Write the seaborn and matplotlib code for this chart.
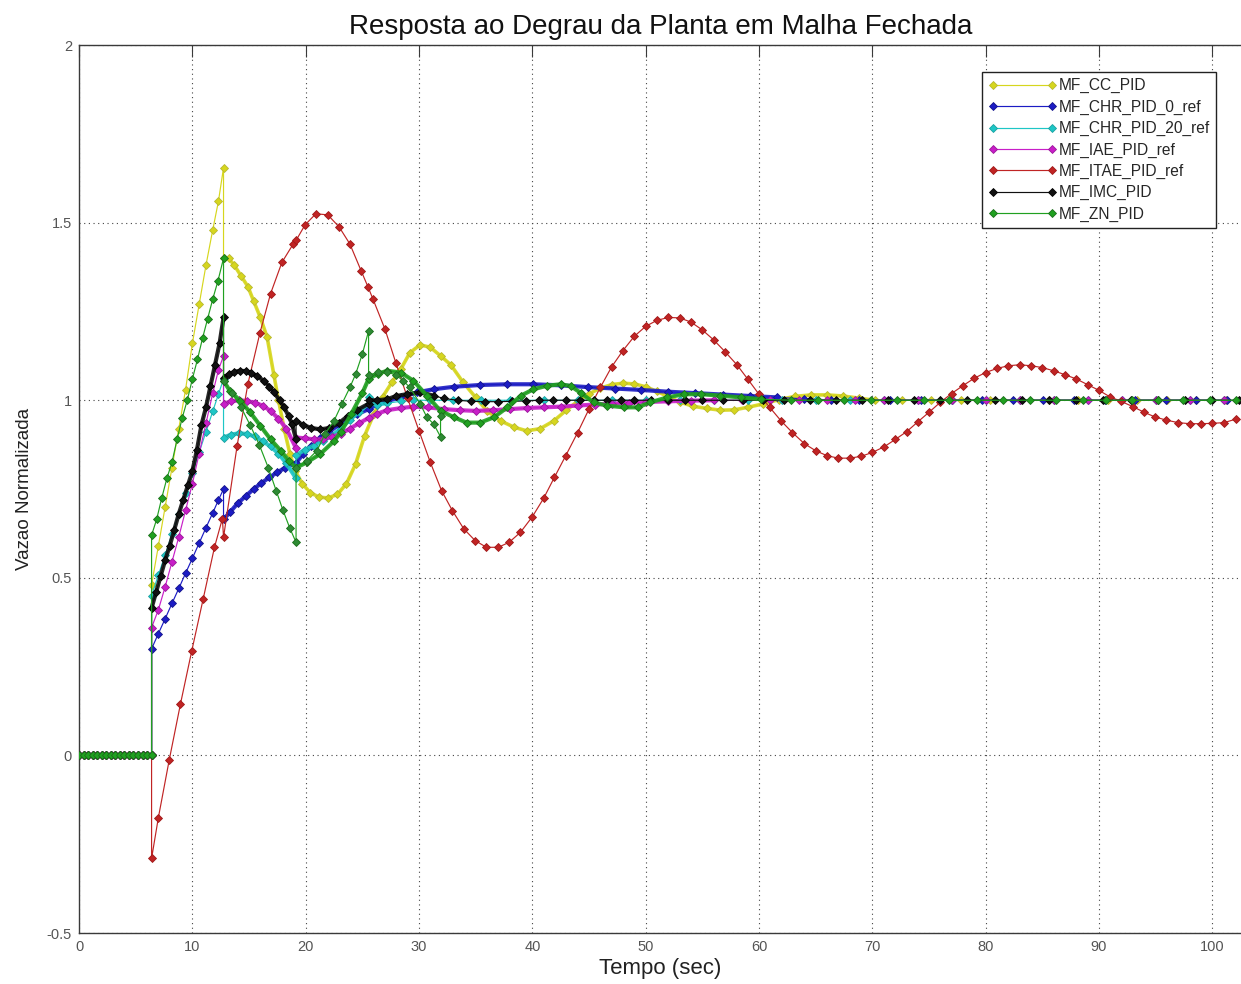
import numpy as np
import matplotlib
matplotlib.use("Agg")
import matplotlib.pyplot as plt
import seaborn as sns
from matplotlib.lines import Line2D

sns.set_style("white")
plt.rcParams["font.family"] = ["Liberation Sans", "DejaVu Sans"]

# ---------------------------------------------------------------- data
# closed-loop output is zero until the step is applied at t = 6.4 s
t_pre = np.linspace(0.0, 6.4, 17)
y_pre = np.zeros_like(t_pre)

# (time [s], normalised flow) samples; repeated times are jumps
cc_pid = [
    (6.4, 0.48), (7.0, 0.59), (7.6, 0.70), (8.2, 0.81), (8.8, 0.92), (9.4, 1.03),
    (10.0, 1.16), (10.6, 1.27), (11.2, 1.38), (11.8, 1.48), (12.3, 1.56), (12.75, 1.655),
    (12.75, 1.40), (13.2, 1.40), (13.7, 1.38), (14.3, 1.35), (14.9, 1.32), (15.4, 1.28),
    (16.0, 1.233), (16.6, 1.177), (17.2, 1.07), (17.6, 1.0), (18.1, 0.92), (18.6, 0.85),
    (19.1, 0.80), (19.7, 0.765), (20.4, 0.74), (21.2, 0.727), (22.0, 0.725), (22.8, 0.735),
    (23.6, 0.765), (24.4, 0.82), (25.2, 0.90), (26.0, 0.96), (26.8, 1.01), (27.6, 1.05),
    (28.4, 1.088), (29.2, 1.134), (30.1, 1.156), (31.0, 1.149), (31.9, 1.125), (32.8, 1.10),
    (33.9, 1.05), (35.0, 1.008), (36.0, 0.97), (37.2, 0.942), (38.4, 0.924), (39.5, 0.914),
    (40.7, 0.92), (41.9, 0.942), (43.0, 0.972), (44.0, 0.997), (45.0, 1.018), (46.0, 1.034),
    (47.0, 1.044), (48.0, 1.048), (49.0, 1.046), (50.0, 1.038), (51.0, 1.025), (52.0, 1.01),
    (53.0, 0.995), (54.2, 0.983), (55.4, 0.977), (56.6, 0.972), (57.8, 0.973), (59.0, 0.98),
    (60.4, 0.99), (61.8, 1.002), (63.2, 1.011), (64.6, 1.015), (66.0, 1.015), (67.4, 1.012),
    (68.8, 1.006), (70.2, 1.0), (72.6, 1.0), (75.2, 1.0), (77.8, 1.0), (80.4, 1.0),
    (83.0, 1.0), (85.6, 1.0), (88.2, 1.0), (90.8, 1.0), (93.4, 1.0), (96.0, 1.0),
    (98.6, 1.0), (101.2, 1.0),
]

chr_pid_0 = [
    (6.4, 0.30), (7.0, 0.343), (7.6, 0.385), (8.2, 0.428), (8.8, 0.47), (9.4, 0.513),
    (10.0, 0.555), (10.6, 0.598), (11.2, 0.641), (11.8, 0.683), (12.3, 0.719), (12.75, 0.75),
    (12.75, 0.665), (13.3, 0.684), (14.0, 0.71), (14.7, 0.73), (15.4, 0.75), (16.1, 0.767),
    (16.8, 0.783), (17.5, 0.797), (18.2, 0.81), (19.15, 0.823),
    (19.8, 0.85), (20.5, 0.87), (21.3, 0.893), (22.1, 0.912), (22.9, 0.93), (23.7, 0.946),
    (24.5, 0.96), (25.55, 0.975),
    (26.3, 0.988), (27.2, 0.998), (28.4, 1.008), (29.8, 1.022), (31.3, 1.031), (33.1, 1.038),
    (35.4, 1.043), (37.8, 1.045), (40.1, 1.045), (42.5, 1.042), (44.9, 1.037), (47.3, 1.033),
    (49.6, 1.029), (52.0, 1.024), (54.4, 1.02), (56.8, 1.016), (59.2, 1.012), (61.6, 1.008),
    (64.0, 1.004), (66.4, 1.001), (68.8, 1.0), (71.6, 1.0), (74.3, 1.0), (77.0, 1.0),
    (79.7, 1.0), (82.4, 1.0), (85.1, 1.0), (87.8, 1.0), (90.5, 1.0), (93.2, 1.0),
    (95.9, 1.0), (98.6, 1.0), (101.3, 1.0),
]

chr_pid_20 = [
    (6.4, 0.45), (7.0, 0.508), (7.6, 0.565), (8.2, 0.623), (8.8, 0.681), (9.4, 0.738),
    (10.0, 0.796), (10.6, 0.853), (11.2, 0.911), (11.8, 0.969), (12.3, 1.017), (12.75, 1.06),
    (12.75, 0.895), (13.4, 0.903), (14.1, 0.907), (14.8, 0.905), (15.5, 0.898), (16.2, 0.885),
    (16.9, 0.87), (17.6, 0.85), (18.3, 0.822), (19.15, 0.78),
    (19.15, 0.845), (19.9, 0.86), (20.7, 0.872), (21.5, 0.885), (22.3, 0.90), (23.1, 0.92),
    (23.9, 0.945), (24.7, 0.968), (25.55, 0.99), (25.55, 1.01),
    (26.3, 0.988), (27.2, 0.992), (28.4, 0.997), (29.5, 1.0), (31.0, 1.0), (33.0, 1.0),
    (35.5, 1.0), (38.0, 1.0), (41.0, 1.0), (44.0, 1.0), (47.0, 1.0), (50.0, 1.0),
    (53.0, 1.0), (56.0, 1.0), (59.0, 1.0), (62.0, 1.0), (65.0, 1.0), (68.0, 1.0),
    (71.0, 1.0), (74.0, 1.0), (77.0, 1.0), (80.0, 1.0), (83.0, 1.0), (86.0, 1.0),
    (89.0, 1.0), (92.0, 1.0), (95.0, 1.0), (98.0, 1.0), (101.0, 1.0),
]

iae_pid = [
    (6.4, 0.36), (7.0, 0.41), (7.6, 0.475), (8.2, 0.545), (8.8, 0.615), (9.4, 0.69),
    (10.0, 0.765), (10.6, 0.85), (11.2, 0.935), (11.8, 1.02), (12.3, 1.085), (12.75, 1.125),
    (12.75, 0.99), (13.4, 0.997), (14.1, 1.0), (14.8, 0.998), (15.5, 0.993), (16.2, 0.985),
    (16.9, 0.97), (17.6, 0.948), (18.3, 0.92), (19.15, 0.865),
    (19.15, 0.895), (19.9, 0.893), (20.7, 0.89), (21.5, 0.89), (22.3, 0.897), (23.1, 0.905),
    (23.9, 0.92), (24.7, 0.935), (25.55, 0.95),
    (26.3, 0.962), (27.2, 0.972), (28.4, 0.978), (29.5, 0.982), (30.8, 0.98), (32.2, 0.975),
    (33.6, 0.972), (35.0, 0.97), (36.5, 0.972), (38.0, 0.975), (39.5, 0.978), (41.0, 0.98),
    (42.5, 0.982), (44.0, 0.985), (45.5, 0.988), (47.0, 0.99), (48.5, 0.993), (50.0, 0.995),
    (52.0, 0.997), (54.0, 0.999), (56.0, 1.0), (58.5, 1.0), (61.0, 1.0), (63.5, 1.0),
    (66.0, 1.0), (68.5, 1.0), (71.0, 1.0), (74.0, 1.0), (77.0, 1.0), (80.0, 1.0),
    (83.0, 1.0), (86.0, 1.0), (89.0, 1.0), (92.0, 1.0), (95.0, 1.0), (98.0, 1.0), (101.0, 1.0),
]

itae_pid = [
    (6.4, -0.29), (7.0, -0.175), (7.95, -0.014), (8.95, 0.145), (9.95, 0.295), (10.95, 0.44),
    (11.95, 0.586), (12.65, 0.667), (12.75, 0.614), (13.95, 0.872), (14.9, 1.046), (15.95, 1.188),
    (16.9, 1.30), (17.9, 1.388), (18.9, 1.44), (19.15, 1.45), (19.95, 1.494), (20.9, 1.525),
    (21.95, 1.522), (22.95, 1.488), (23.9, 1.44), (24.9, 1.364), (25.5, 1.319), (25.95, 1.284),
    (27.0, 1.2), (27.95, 1.106), (29.0, 1.005), (30.0, 0.914), (31.0, 0.825), (32.0, 0.745),
    (32.95, 0.689), (33.95, 0.638), (34.95, 0.605), (35.95, 0.586), (37.0, 0.586), (37.95, 0.60),
    (38.95, 0.628), (40.0, 0.672), (41.0, 0.724), (41.95, 0.783), (42.95, 0.844), (44.0, 0.909),
    (45.0, 0.975), (46.0, 1.036), (47.0, 1.094), (48.0, 1.14), (49.0, 1.18), (50.0, 1.208),
    (51.0, 1.225), (52.0, 1.233), (53.0, 1.232), (54.0, 1.22), (55.0, 1.198), (56.0, 1.17),
    (57.0, 1.137), (58.05, 1.10), (59.0, 1.06), (60.0, 1.017), (60.95, 0.98), (61.95, 0.942),
    (62.95, 0.909), (64.0, 0.878), (65.0, 0.858), (66.0, 0.844), (67.0, 0.837), (68.0, 0.837),
    (69.0, 0.842), (70.0, 0.853), (71.05, 0.869), (72.05, 0.89), (73.05, 0.912), (74.05, 0.94),
    (75.0, 0.966), (76.0, 0.994), (77.0, 1.019), (78.0, 1.041), (79.0, 1.062), (80.0, 1.078),
    (81.05, 1.09), (82.0, 1.097), (83.0, 1.10), (84.05, 1.097), (85.0, 1.092), (86.0, 1.083),
    (87.0, 1.072), (88.0, 1.06), (89.0, 1.044), (90.0, 1.028), (90.95, 1.01), (91.95, 0.997),
    (93.0, 0.982), (94.0, 0.966), (94.95, 0.953), (95.95, 0.944), (97.0, 0.937), (98.0, 0.934),
    (99.05, 0.934), (100.0, 0.935), (101.05, 0.937), (102.1, 0.947),
]

imc_pid = [
    (6.4, 0.415), (6.8, 0.46), (7.2, 0.505), (7.6, 0.55), (8.0, 0.59), (8.4, 0.635),
    (8.8, 0.68), (9.2, 0.72), (9.6, 0.76), (10.0, 0.80), (10.4, 0.86), (10.8, 0.93),
    (11.2, 0.98), (11.6, 1.04), (12.0, 1.10), (12.4, 1.16), (12.75, 1.233),
    (12.75, 1.064), (13.2, 1.073), (13.7, 1.08), (14.2, 1.083), (14.7, 1.082), (15.2, 1.077),
    (15.7, 1.068), (16.3, 1.055), (16.8, 1.038), (17.2, 1.022), (17.7, 1.0), (18.1, 0.98),
    (18.5, 0.955), (18.8, 0.933), (19.15, 0.89),
    (19.15, 0.942), (19.8, 0.93), (20.5, 0.922), (21.3, 0.918), (22.1, 0.922), (22.9, 0.935),
    (23.7, 0.955), (24.5, 0.972), (25.55, 0.99), (25.55, 1.0),
    (26.3, 1.0), (27.2, 1.003), (28.0, 1.012), (28.9, 1.017), (30.1, 1.022), (31.3, 1.013),
    (32.2, 1.005), (33.4, 1.0), (34.6, 0.997), (35.8, 0.996), (37.0, 0.996), (38.2, 0.997),
    (39.4, 0.998), (40.6, 1.0), (41.8, 1.0), (43.0, 1.0), (44.2, 1.0), (45.4, 1.0),
    (46.6, 1.0), (47.8, 1.0), (49.0, 1.0), (50.5, 1.0), (52.0, 1.0), (53.5, 1.0),
    (55.0, 1.0), (56.8, 1.0), (58.6, 1.0), (60.4, 1.0), (62.2, 1.0), (64.5, 1.0),
    (66.8, 1.0), (69.1, 1.0), (71.4, 1.0), (73.7, 1.0), (76.0, 1.0), (78.4, 1.0),
    (80.8, 1.0), (83.2, 1.0), (85.6, 1.0), (88.0, 1.0), (90.4, 1.0), (92.8, 1.0),
    (95.2, 1.0), (97.6, 1.0), (100.0, 1.0), (102.4, 1.0),
]

zn_pid = [
    (6.4, 0.62), (6.85, 0.665), (7.3, 0.725), (7.75, 0.78), (8.2, 0.825), (8.65, 0.89),
    (9.1, 0.95), (9.55, 1.0), (10.0, 1.06), (10.45, 1.115), (10.9, 1.175), (11.35, 1.23),
    (11.8, 1.285), (12.25, 1.335), (12.75, 1.40),
    (12.75, 1.055), (13.3, 1.027), (14.2, 0.999), (15.1, 0.966), (16.0, 0.928), (16.9, 0.89),
    (17.8, 0.858), (18.5, 0.83), (19.15, 0.81), (20.1, 0.825), (21.3, 0.849), (22.5, 0.885),
    (23.1, 0.91), (24.0, 0.96), (25.0, 1.02), (25.55, 1.06), (26.4, 1.075), (27.2, 1.083),
    (28.4, 1.078), (29.5, 1.055), (30.7, 1.013), (31.9, 0.97), (33.1, 0.952), (34.2, 0.937),
    (35.4, 0.937), (36.6, 0.952), (37.8, 0.98), (39.0, 1.013), (40.1, 1.031), (41.3, 1.041),
    (42.5, 1.045), (43.4, 1.04), (44.3, 1.02), (45.4, 0.994), (46.6, 0.985), (48.1, 0.98),
    (49.3, 0.98), (50.4, 0.994), (51.9, 1.008), (53.4, 1.017), (54.9, 1.017), (56.6, 1.013),
    (58.4, 1.008), (60.2, 1.003), (62.8, 1.0), (65.2, 1.0), (67.5, 1.0), (69.9, 1.0),
    (72.2, 1.0), (74.6, 1.0), (76.8, 1.0), (79.2, 1.0), (81.5, 1.0), (83.9, 1.0),
    (86.2, 1.0), (88.6, 1.0), (90.6, 1.0), (92.9, 1.0), (95.2, 1.0), (97.4, 1.0),
    (99.8, 1.0), (102.1, 1.0),
]

# restarted Z-N simulation windows (coarse sampling)
zn_pid_windows = [
    (12.75, 1.055), (13.5, 1.02), (14.3, 0.98), (15.1, 0.93), (15.9, 0.875), (16.7, 0.81),
    (17.4, 0.745), (18.0, 0.69), (18.6, 0.64), (19.15, 0.60),
    (19.15, 0.81), (20.1, 0.83), (21.0, 0.858), (21.7, 0.905), (22.5, 0.942), (23.2, 0.99),
    (23.9, 1.036), (24.4, 1.073), (25.0, 1.13), (25.55, 1.195),
    (25.55, 1.07), (26.4, 1.08), (27.2, 1.08), (28.0, 1.07), (28.6, 1.055), (29.2, 1.036),
    (30.1, 0.99), (30.7, 0.952), (31.3, 0.933), (31.9, 0.897), (31.9, 0.956),
]

series_names = ["MF_CC_PID", "MF_CHR_PID_0_ref", "MF_CHR_PID_20_ref", "MF_IAE_PID_ref",
                "MF_ITAE_PID_ref", "MF_IMC_PID", "MF_ZN_PID"]
series_data = [cc_pid, chr_pid_0, chr_pid_20, iae_pid, itae_pid, imc_pid, zn_pid]

x_ticks = [0, 10, 20, 30, 40, 50, 60, 70, 80, 90, 100]
x_tick_labels = ["0", "10", "20", "30", "40", "50", "60", "70", "80", "90", "100"]
y_ticks = [-0.5, 0.0, 0.5, 1.0, 1.5, 2.0]
y_tick_labels = ["-0.5", "0", "0.5", "1", "1.5", "2"]

# ---------------------------------------------------------------- style
colors = {
    "MF_CC_PID": "#d6d61e",
    "MF_CHR_PID_0_ref": "#1c1cc4",
    "MF_CHR_PID_20_ref": "#1ec6c6",
    "MF_IAE_PID_ref": "#c81ec8",
    "MF_ITAE_PID_ref": "#c02424",
    "MF_IMC_PID": "#111111",
    "MF_ZN_PID": "#20a020",
}
edge_colors = {
    "MF_CC_PID": "#b8b830",
    "MF_CHR_PID_0_ref": "#14148a",
    "MF_CHR_PID_20_ref": "#1aa0a0",
    "MF_IAE_PID_ref": "#9a189a",
    "MF_ITAE_PID_ref": "#a01818",
    "MF_IMC_PID": "#000000",
    "MF_ZN_PID": "#1a6e1a",
}
# time ranges where the samples are so dense that they form a thick band
band_ranges = {
    "MF_CC_PID": [(12.75, 70.5)],
    "MF_CHR_PID_0_ref": [(12.75, 62.0)],
    "MF_CHR_PID_20_ref": [(12.75, 27.5)],
    "MF_IAE_PID_ref": [(12.75, 56.0)],
    "MF_ITAE_PID_ref": [],
    "MF_IMC_PID": [(6.4, 31.5)],
    "MF_ZN_PID": [(0.0, 6.4), (12.75, 61.0)],
}
band_width = {"MF_CC_PID": 2.6}

MARKER = "D"
MS = 3.6
LW = 0.85


def as_arrays(points, with_pre=True):
    t, y = np.array(points, dtype=float).T
    if with_pre:
        t = np.concatenate([t_pre, t])
        y = np.concatenate([y_pre, y])
    return t, y


def draw_band(ax, t, y, lo, hi, color, width, z):
    # repeated sample times mark vertical jumps: keep them thin
    cuts = np.where(np.diff(t) == 0)[0] + 1
    for st, sy in zip(np.split(t, cuts), np.split(y, cuts)):
        keep = (st >= lo - 1e-9) & (st <= hi + 1e-9)
        if keep.sum() > 1:
            ax.plot(st[keep], sy[keep], color=color, lw=width, alpha=0.9,
                    solid_capstyle="butt", solid_joinstyle="round", zorder=z)


fig = plt.figure(figsize=(12.41, 9.84), dpi=100)
ax = fig.add_axes([0.0637, 0.0518, 0.9373, 0.9024])

for i, (name, pts) in enumerate(zip(series_names, series_data)):
    t, y = as_arrays(pts)
    z = 3 + i
    for lo, hi in band_ranges[name]:
        draw_band(ax, t, y, lo, hi, colors[name], band_width.get(name, 3.0), z)
    sns.lineplot(x=t, y=y, ax=ax, sort=False, estimator=None, errorbar=None,
                 color=colors[name], lw=LW, marker=MARKER, markersize=MS,
                 markeredgewidth=0.6, markeredgecolor=edge_colors[name],
                 markerfacecolor=colors[name], zorder=z)
    if name == "MF_ZN_PID":
        tw, yw = as_arrays(zn_pid_windows, with_pre=False)
        sns.lineplot(x=tw, y=yw, ax=ax, sort=False, estimator=None, errorbar=None,
                     color=colors[name], lw=LW, marker=MARKER, markersize=MS + 0.4,
                     markeredgewidth=0.6, markeredgecolor=edge_colors[name],
                     markerfacecolor="#2e8a34", zorder=z)

ax.set_xlim(0, 102.65)
ax.set_ylim(-0.5, 2.0)
ax.set_xticks(x_ticks)
ax.set_xticklabels(x_tick_labels)
ax.set_yticks(y_ticks)
ax.set_yticklabels(y_tick_labels)

ax.grid(True, color="#444444", linestyle=(0, (1, 3.2)), linewidth=0.8)
ax.set_axisbelow(True)
for side in ["left", "bottom", "top"]:
    ax.spines[side].set_color("#3a3a3a")
    ax.spines[side].set_linewidth(1.0)
ax.spines["right"].set_visible(False)
ax.tick_params(direction="in", length=8.5, width=0.8, color="#3a3a3a",
               top=True, right=False, labelsize=10.5, labelcolor="#555555")
ax.tick_params(axis="x", pad=5)
ax.tick_params(axis="y", pad=5)

ax.set_title("Resposta ao Degrau da Planta em Malha Fechada", fontsize=20,
             color="#111111", pad=8)
ax.set_xlabel("Tempo (sec)", fontsize=16, color="#222222", labelpad=3)
ax.set_ylabel("Vazao Normalizada", fontsize=13.5, color="#222222", labelpad=10)

handles = [Line2D([], [], color=colors[n], lw=LW, marker=MARKER, markersize=MS,
                  markeredgewidth=0.6, markeredgecolor=edge_colors[n],
                  markerfacecolor=colors[n]) for n in series_names]
leg = ax.legend(handles, series_names, loc="upper right",
                bbox_to_anchor=(0.9776, 0.9696), borderaxespad=0.0,
                numpoints=2, fontsize=11.2, handlelength=4.4, handletextpad=0.1,
                labelspacing=0.4, borderpad=0.4, fancybox=False, framealpha=1.0)
leg.get_frame().set_edgecolor("#222222")
leg.get_frame().set_linewidth(1.0)
leg.set_zorder(20)

fig.savefig("out.png", dpi=100, facecolor="white")
